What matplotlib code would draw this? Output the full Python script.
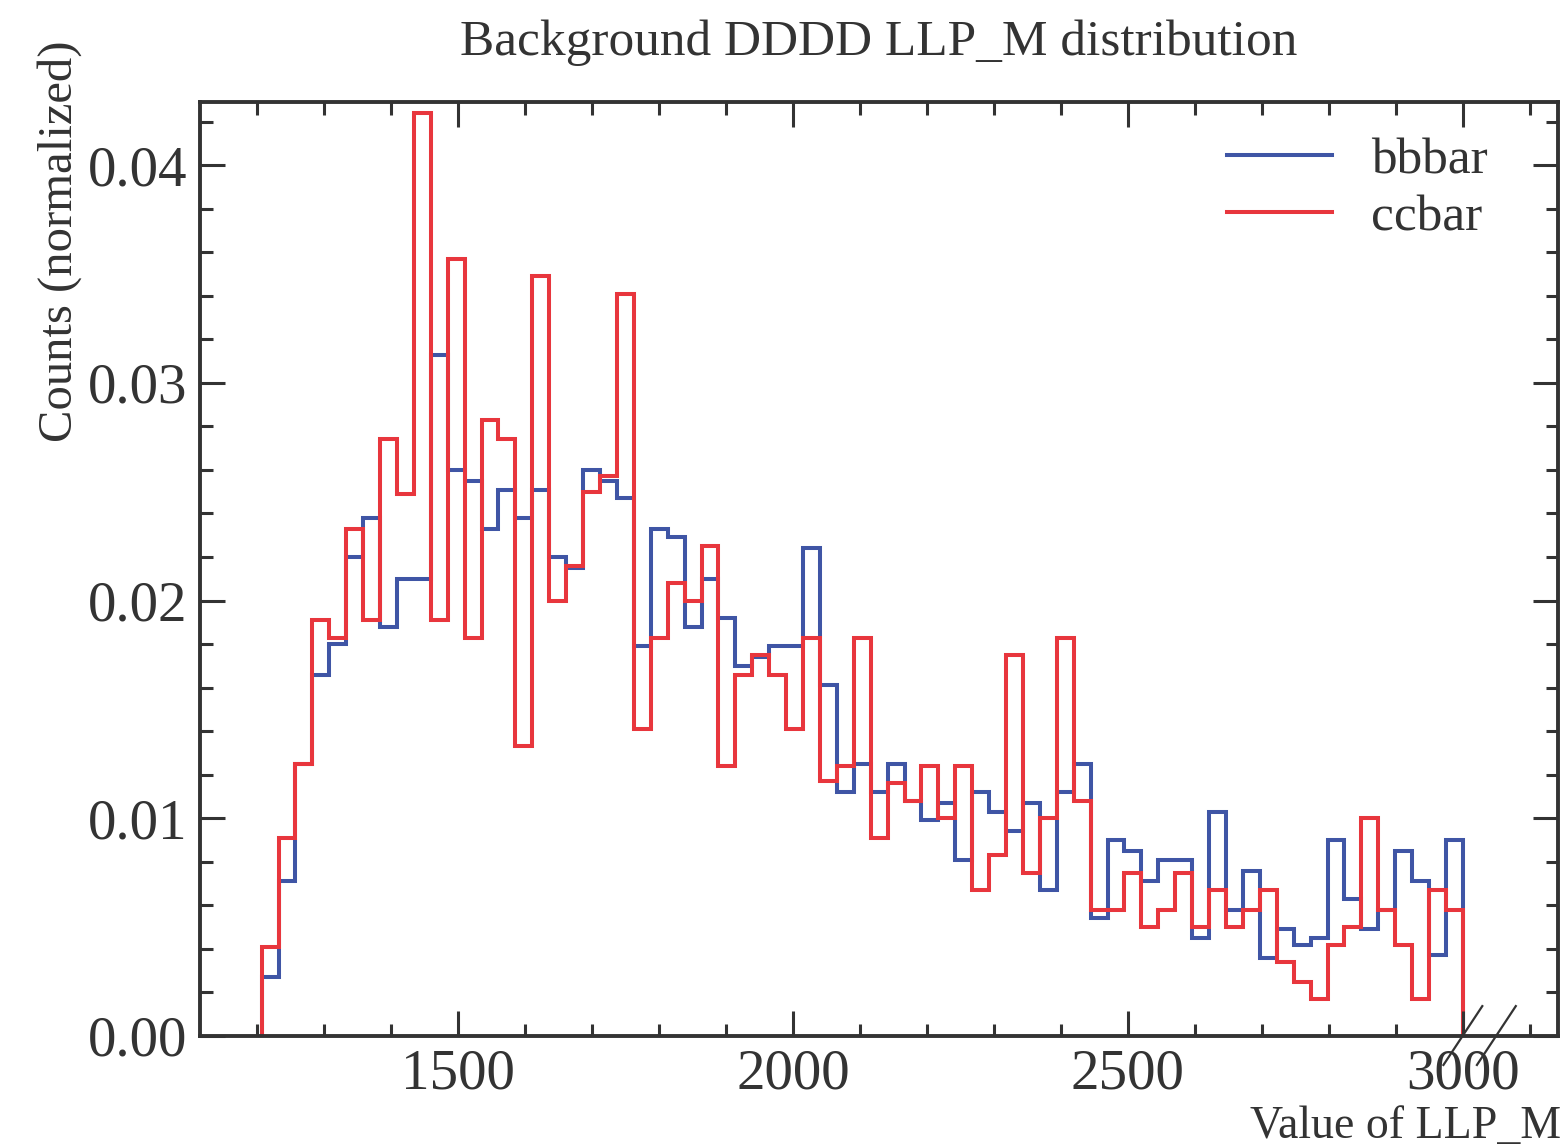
import numpy as np
import matplotlib
matplotlib.use("Agg")
import matplotlib.pyplot as plt
from matplotlib.ticker import MultipleLocator, FormatStrFormatter
import matplotlib.transforms as mtransforms

# ---------------- data ----------------
bin_start = 1207.0
bin_end = 3000.0
n_bins = 71

bbbar = [0.0027, 0.0071, 0.0125, 0.0166, 0.0180, 0.0220, 0.0238, 0.0188, 0.0210, 0.0210,
         0.0313, 0.0260, 0.0255, 0.0233, 0.0251, 0.0238, 0.0251, 0.0220, 0.0215, 0.0260,
         0.0255, 0.0247, 0.0179, 0.0233, 0.0229, 0.0188, 0.0210, 0.0192, 0.0170, 0.0174,
         0.0179, 0.0179, 0.0224, 0.0161, 0.0112, 0.0125, 0.0112, 0.0125, 0.0108, 0.0099,
         0.0107, 0.0081, 0.0112, 0.0103, 0.0094, 0.0107, 0.0067, 0.0112, 0.0125, 0.0054,
         0.0090, 0.0085, 0.0071, 0.0081, 0.0081, 0.0045, 0.0103, 0.0058, 0.0076, 0.0036,
         0.0049, 0.0042, 0.0045, 0.0090, 0.0063, 0.0049, 0.0058, 0.0085, 0.0071, 0.0037,
         0.0090]

ccbar = [0.0041, 0.0091, 0.0125, 0.0191, 0.0183, 0.0233, 0.0191, 0.0274, 0.0249, 0.0424,
         0.0191, 0.0357, 0.0183, 0.0283, 0.0274, 0.0133, 0.0349, 0.0200, 0.0216, 0.0250,
         0.0257, 0.0341, 0.0141, 0.0183, 0.0208, 0.0200, 0.0225, 0.0124, 0.0166, 0.0175,
         0.0166, 0.0141, 0.0183, 0.0117, 0.0124, 0.0183, 0.0091, 0.0116, 0.0108, 0.0124,
         0.0100, 0.0124, 0.0067, 0.0083, 0.0175, 0.0075, 0.0100, 0.0183, 0.0108, 0.0058,
         0.0058, 0.0075, 0.0050, 0.0058, 0.0075, 0.0050, 0.0067, 0.0050, 0.0058, 0.0067,
         0.0034, 0.0025, 0.0017, 0.0042, 0.0050, 0.0100, 0.0058, 0.0042, 0.0017, 0.0067,
         0.0058]

series_labels = ["bbbar", "ccbar"]
title = "Background DDDD LLP_M distribution"
xlabel = "Value of LLP_M"
ylabel = "Counts (normalized)"
break_marks = [3000, 3050]

# ---------------- style ----------------
plt.rcParams['font.family'] = ['Liberation Serif', 'DejaVu Serif']
txt = '#333333'
blue = '#3f55a5'
red = '#e8363d'

fig = plt.figure(figsize=(15.67, 11.46), dpi=100)
ax = fig.add_axes([200 / 1567, 1 - 1036 / 1146, 1358 / 1567, 934 / 1146])

edges = np.linspace(bin_start, bin_end, n_bins + 1)
ax.stairs(bbbar, edges, color=blue, lw=2.9, label=series_labels[0])
ax.stairs(ccbar, edges, color=red, lw=2.9, label=series_labels[1])

ax.set_xlim(1115, 3142)
ax.set_ylim(0, 0.0429)

ax.xaxis.set_major_locator(MultipleLocator(500))
ax.xaxis.set_minor_locator(MultipleLocator(100))
ax.yaxis.set_major_locator(MultipleLocator(0.01))
ax.yaxis.set_minor_locator(MultipleLocator(0.002))
ax.yaxis.set_major_formatter(FormatStrFormatter('%.2f'))

ax.tick_params(which='both', direction='in', top=True, right=True,
               color=txt, labelcolor=txt, labelsize=41)
ax.tick_params(which='major', length=18, width=2.2, pad=9)
ax.tick_params(which='minor', length=9, width=2.2)
for s in ax.spines.values():
    s.set_linewidth(2.8)
    s.set_color(txt)

ax.set_title(title, fontsize=37, color=txt, pad=34)
ax.set_xlabel(xlabel, fontsize=33, color=txt, loc='right')
ax.xaxis.set_label_coords(1.002, -0.074)
ax.set_ylabel(ylabel, fontsize=35, color=txt, loc='top')
ax.yaxis.set_label_coords(-0.087, 1.066)

leg = ax.legend(loc='upper right', bbox_to_anchor=(0.948, 0.962), frameon=False,
                fontsize=37, handlelength=2.05, handletextpad=0.75,
                labelspacing=0.19, borderpad=0, borderaxespad=0)
for t in leg.get_texts():
    t.set_color(txt)

# overflow break marks on the x axis
trans = mtransforms.blended_transform_factory(ax.transData, ax.transAxes)
for xb in break_marks:
    ax.plot([xb - 29, xb + 29], [-0.031, 0.032], transform=trans,
            color=txt, lw=1.6, clip_on=False)

fig.savefig("out.png", dpi=100)
